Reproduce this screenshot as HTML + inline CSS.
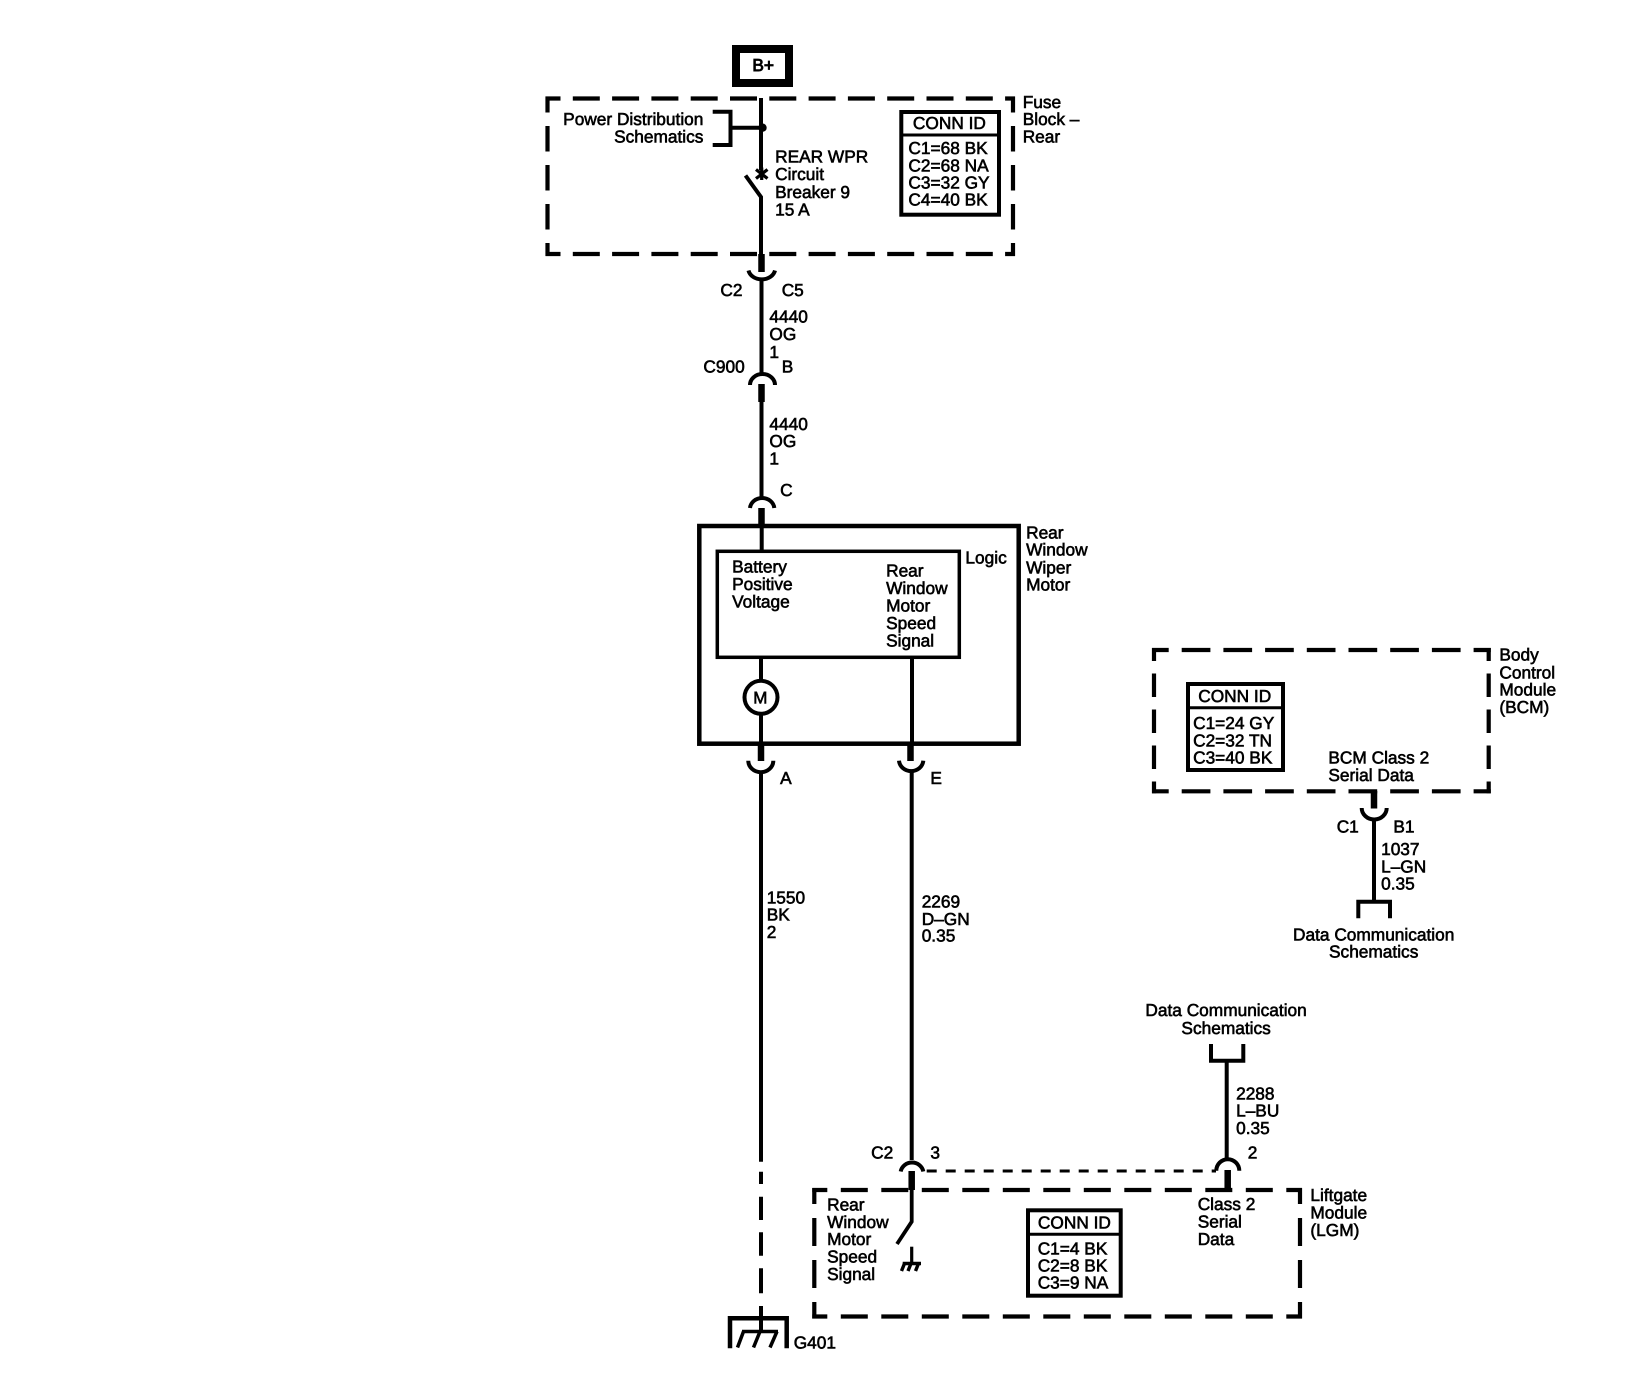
<!DOCTYPE html>
<html>
<head>
<meta charset="utf-8">
<style>
html,body{margin:0;padding:0;background:#fff;width:1648px;height:1376px;overflow:hidden}
svg{display:block}
text{font-family:"Liberation Sans",Arial,sans-serif;font-size:17.3px;fill:#000;stroke:#000;stroke-width:.6px;text-rendering:geometricPrecision;transform:translateX(-.6px)}
.e{text-anchor:end}.m{text-anchor:middle}
.w{stroke:#000;stroke-width:4;fill:none}
.t{stroke:#000;stroke-width:6.5;fill:none}
.a{stroke:#000;stroke-width:4;fill:none}
.b{stroke:#000;stroke-width:4.2;fill:none}
</style>
</head>
<body>
<svg width="1648" height="1376" viewBox="0 0 1648 1376" xmlns="http://www.w3.org/2000/svg">
<rect width="1648" height="1376" fill="#fff"/>

<!-- B+ -->
<rect x="736" y="49" width="53" height="34" fill="#fff" stroke="#000" stroke-width="8"/>
<text x="753" y="71" style="stroke-width:.9px">B+</text>

<!-- Fuse block dashed -->
<g class="b" stroke-dasharray="27 12.3">
<path d="M545.5 98.5H1015" stroke-dashoffset="12"/>
<path d="M545.5 254H1015" stroke-dashoffset="12"/>
</g>
<g class="b" stroke-dasharray="25.5 13.5">
<path d="M547.5 96.5V256" stroke-dashoffset="9.5"/>
<path d="M1013 96.5V256" stroke-dashoffset="9.5"/>
</g>

<!-- Fuse block content -->
<text class="e" x="704" y="125">Power Distribution</text>
<text class="e" x="704" y="142.7">Schematics</text>
<path class="w" d="M712.7 111.7H730.5V145H712.7"/>
<path class="w" d="M730 127.7H762"/>
<circle cx="762.5" cy="127.7" r="4.2"/>
<path class="w" d="M761 98V170"/>
<path d="M756 169.5L767.5 178.5M767.5 169.5L756 178.5M761.7 167.5V180" stroke="#000" stroke-width="3.2" fill="none"/>
<path d="M745.5 175.5L761 197V254" stroke="#000" stroke-width="4" fill="none"/>
<text x="775.7" y="162.7">REAR WPR</text>
<text x="775.7" y="180">Circuit</text>
<text x="775.7" y="198">Breaker 9</text>
<text x="775.7" y="215.5">15 A</text>

<rect x="901.3" y="112" width="97.7" height="102.7" fill="none" stroke="#000" stroke-width="4"/>
<path d="M901 135H999" stroke="#000" stroke-width="3"/>
<text class="m" x="950" y="129">CONN ID</text>
<text x="909" y="154">C1=68 BK</text>
<text x="909" y="171.3">C2=68 NA</text>
<text x="909" y="188.7">C3=32 GY</text>
<text x="909" y="205.7">C4=40 BK</text>
<text x="1023.3" y="108">Fuse</text>
<text x="1023.3" y="125">Block –</text>
<text x="1023.3" y="142.7">Rear</text>

<!-- Upper connectors -->
<path class="t" d="M761.5 254V272"/>
<path class="a" d="M748.5 270.5A13.5 11 0 0 0 775 270.5"/>
<path class="w" d="M761.5 281V374"/>
<text x="721" y="296">C2</text>
<text x="782.3" y="296">C5</text>
<text x="770" y="322.7">4440</text>
<text x="770" y="340.2">OG</text>
<text x="770" y="358">1</text>
<text x="704" y="372.7">C900</text>
<text x="782.3" y="372.7">B</text>
<path class="a" d="M750 385A12.5 11 0 0 1 775 385"/>
<path class="t" d="M761.5 384V402"/>
<path class="w" d="M761.5 400V497"/>
<text x="770" y="430">4440</text>
<text x="770" y="447">OG</text>
<text x="770" y="464.5">1</text>
<text x="780.7" y="496">C</text>
<path class="a" d="M750 508A12.2 11 0 0 1 774.3 508"/>
<path class="t" d="M761.5 508V526"/>

<!-- Rear Window Wiper Motor -->
<rect x="699.3" y="526" width="319.4" height="217.7" fill="none" stroke="#000" stroke-width="4.5"/>
<rect x="717.3" y="551.3" width="242" height="106" fill="none" stroke="#000" stroke-width="3.5"/>
<path class="w" d="M761.7 526V551"/>
<text x="732.7" y="572.3">Battery</text>
<text x="732.7" y="590">Positive</text>
<text x="732.7" y="607.3">Voltage</text>
<text x="886.7" y="576.7">Rear</text>
<text x="886.7" y="594">Window</text>
<text x="886.7" y="611.7">Motor</text>
<text x="886.7" y="629">Speed</text>
<text x="886.7" y="646.3">Signal</text>
<text x="966" y="563.3">Logic</text>
<text x="1026.7" y="538.3">Rear</text>
<text x="1026.7" y="555.7">Window</text>
<text x="1026.7" y="573.3">Wiper</text>
<text x="1026.7" y="590.7">Motor</text>
<path class="w" d="M761 657V681M761 714V744"/>
<circle cx="761" cy="697.3" r="16.5" fill="#fff" stroke="#000" stroke-width="4"/>
<text class="m" x="761" y="703.5" style="font-size:17px">M</text>
<path class="w" d="M912 657V744"/>
<path class="t" d="M761 744V761"/>
<path class="t" d="M910.5 744V761"/>
<path class="a" d="M748.3 760.7A12.5 11.5 0 0 0 773.3 760.7"/>
<path class="a" d="M899 760.7A12.2 11.5 0 0 0 923.3 760.7"/>
<text x="780.7" y="784">A</text>
<text x="931" y="784">E</text>

<!-- Long wires -->
<path class="w" d="M761 772V1161.7"/>
<path class="w" d="M761 1171.7V1184M761 1196.7V1220M761 1232.3V1255.7M761 1268.3V1293.3M761 1306V1332"/>
<path class="w" d="M911.7 772V1160"/>
<text x="767.3" y="903.3">1550</text>
<text x="767.3" y="920.5">BK</text>
<text x="767.3" y="938">2</text>
<text x="922.3" y="907.7">2269</text>
<text x="922.3" y="925">D–GN</text>
<text x="922.3" y="941.7">0.35</text>

<!-- Ground G401 -->
<path d="M730 1348.3V1318.3H786.7V1348.3" fill="none" stroke="#000" stroke-width="4.5"/>
<path d="M742 1331.5H778" stroke="#000" stroke-width="3.5"/>
<path d="M743.5 1331.5L737.5 1347.5M760 1331.5L753.5 1347.5M777 1331.5L770 1347.5" stroke="#000" stroke-width="3.5" fill="none"/>
<text x="794.3" y="1348.3">G401</text>

<!-- BCM -->
<g class="b" stroke-dasharray="28.7 13">
<path d="M1152 650H1490.8" stroke-dashoffset="12"/>
<path d="M1152 791.3H1490.8" stroke-dashoffset="12"/>
</g>
<g class="b" stroke-dasharray="23.5 12.5">
<path d="M1154 648V793.3" stroke-dashoffset="10.5"/>
<path d="M1488.7 648V793.3" stroke-dashoffset="10.5"/>
</g>
<rect x="1188" y="684" width="95" height="86" fill="none" stroke="#000" stroke-width="4"/>
<path d="M1188 707.7H1283" stroke="#000" stroke-width="3"/>
<text class="m" x="1235.3" y="702">CONN ID</text>
<text x="1193.7" y="729">C1=24 GY</text>
<text x="1193.7" y="746.3">C2=32 TN</text>
<text x="1193.7" y="763.7">C3=40 BK</text>
<text x="1500" y="660.7">Body</text>
<text x="1500" y="678.3">Control</text>
<text x="1500" y="695.7">Module</text>
<text x="1500" y="713">(BCM)</text>
<text x="1329" y="763.7">BCM Class 2</text>
<text x="1329" y="781">Serial Data</text>
<path class="t" d="M1374 791V808.5"/>
<path class="a" d="M1361.7 808A12.5 11.5 0 0 0 1386.7 808"/>
<path class="w" d="M1374 819V902"/>
<path class="w" d="M1358.3 918.3V901.7H1390V918.3"/>
<text x="1337.3" y="832.3">C1</text>
<text x="1394" y="832.3">B1</text>
<text x="1381.7" y="855">1037</text>
<text x="1381.7" y="872.3">L–GN</text>
<text x="1381.7" y="889.7">0.35</text>
<text class="m" x="1374.3" y="940.4">Data Communication</text>
<text class="m" x="1374.3" y="957.7">Schematics</text>

<!-- Upper LGM bus -->
<text class="m" x="1226.7" y="1016">Data Communication</text>
<text class="m" x="1226.7" y="1034">Schematics</text>
<path class="w" d="M1211 1044V1060.7H1243.3V1044"/>
<path class="w" d="M1226.7 1060V1159"/>
<text x="1236.7" y="1099.3">2288</text>
<text x="1236.7" y="1116.7">L–BU</text>
<text x="1236.7" y="1134">0.35</text>
<text x="1248.3" y="1158.3">2</text>
<text x="871.7" y="1158.3">C2</text>
<text x="931" y="1158.3">3</text>
<path class="a" d="M900.7 1171.5A11.5 11 0 0 1 923.3 1171.5"/>
<path class="a" d="M1216.3 1170.7A11.5 11.5 0 0 1 1239.3 1170.7"/>
<path d="M926.7 1171H1216" stroke="#000" stroke-width="3" stroke-dasharray="10 9" fill="none"/>
<path class="t" d="M911.7 1171V1190"/>
<path class="t" d="M1227.7 1170V1190"/>

<!-- LGM -->
<g class="b" stroke-dasharray="27 13.5">
<path d="M812.3 1190H1302" stroke-dashoffset="12"/>
<path d="M812.3 1316.5H1302" stroke-dashoffset="12"/>
</g>
<g class="b" stroke-dasharray="28 14">
<path d="M814.3 1188V1318.5" stroke-dashoffset="12"/>
<path d="M1300 1188V1318.5" stroke-dashoffset="12"/>
</g>
<path d="M911.7 1188V1221.7L897 1244" fill="none" stroke="#000" stroke-width="3.8"/>
<path d="M911.7 1246.7V1263" fill="none" stroke="#000" stroke-width="3.2"/>
<path d="M902.7 1263.5H921" stroke="#000" stroke-width="3.6"/>
<path d="M904.5 1263.5L901.5 1271M911 1263.5L908 1271M918.5 1263.5L915.5 1271" stroke="#000" stroke-width="3.4" fill="none"/>
<text x="827.7" y="1210.7">Rear</text>
<text x="827.7" y="1228">Window</text>
<text x="827.7" y="1245">Motor</text>
<text x="827.7" y="1262.3">Speed</text>
<text x="827.7" y="1280">Signal</text>
<rect x="1028" y="1210.3" width="92.7" height="85.4" fill="none" stroke="#000" stroke-width="4"/>
<path d="M1028 1234.3H1120.7" stroke="#000" stroke-width="3"/>
<text class="m" x="1075" y="1228.3">CONN ID</text>
<text x="1038.3" y="1254.3">C1=4 BK</text>
<text x="1038.3" y="1271.7">C2=8 BK</text>
<text x="1038.3" y="1288.7">C3=9 NA</text>
<text x="1198.3" y="1210">Class 2</text>
<text x="1198.3" y="1227.3">Serial</text>
<text x="1198.3" y="1245">Data</text>
<text x="1311" y="1201.2">Liftgate</text>
<text x="1311" y="1218.5">Module</text>
<text x="1311" y="1236">(LGM)</text>
</svg>
</body>
</html>
